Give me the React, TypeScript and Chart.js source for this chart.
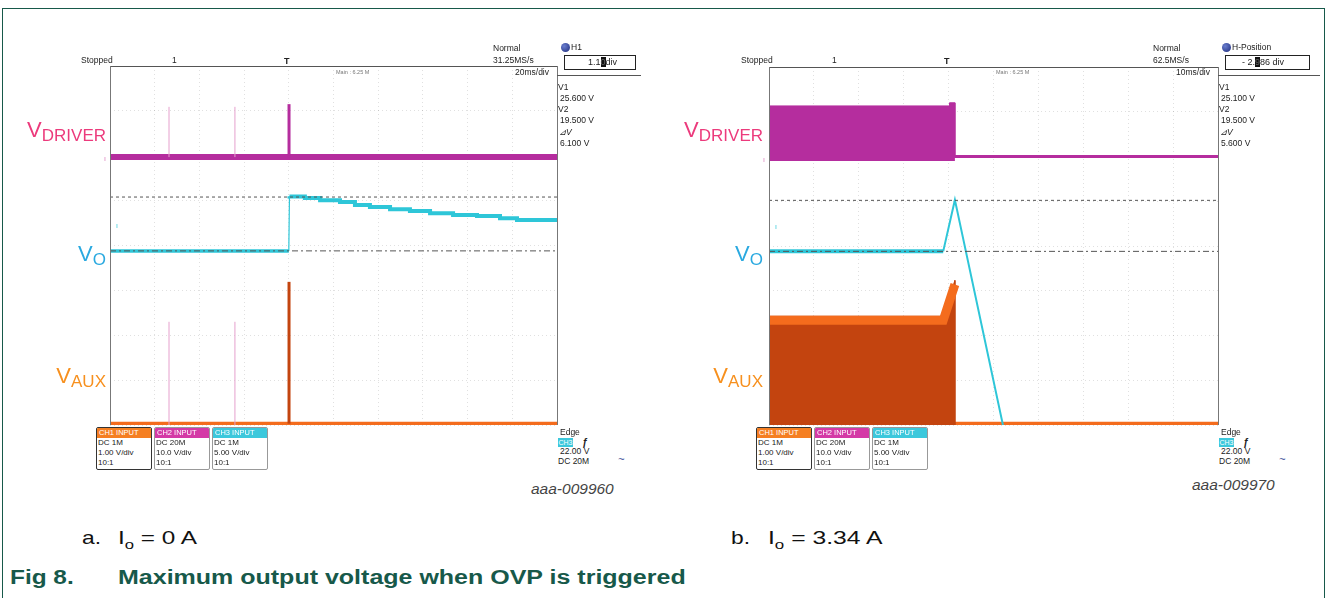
import React, { useEffect, useRef } from "react";
import { Chart, registerables } from "chart.js";
Chart.register(...registerables);

// ---------------- data: time in ms, level in screen divisions (8 div full height) ----------------
// Panel a: Io = 0 A, 20 ms/div
const A_TIME_SPAN = 200;
const aDriverTime = [0, 200];
const aDriverLevel = [5.97, 5.97];
const aDriverSpikeTime = [80.1, 80.1];
const aDriverSpikeLevel = [5.97, 7.15];
const aGlitchTime = [26.4, 55.9];
const aGlitchUpperTop = [7.09, 7.09];
const aGlitchLowerTop = [2.3, 2.3];
const aVoTime = [0, 80.0];
const aVoLevel = [3.88, 3.88];
const aVoRiseTime = [80.0, 80.3];
const aVoRiseLevel = [3.88, 5.1];
const aVoDecayTime = [80.3, 87.2, 94.0, 102.9, 109.6, 116.3, 125.3, 134.2, 143.2, 153.5, 164.2, 174.5, 182.1, 191.0, 200];
const aVoDecayLevel = [5.1, 5.09, 5.06, 5.01, 4.97, 4.9, 4.86, 4.81, 4.77, 4.72, 4.68, 4.66, 4.61, 4.57, 4.57];
const aAuxTime = [0, 200];
const aAuxLevel = [0.03, 0.03];
const aAuxSpikeTime = [80.1, 80.1];
const aAuxSpikeLevel = [0.03, 3.19];
const aCursorLevels = [5.08, 3.88];

// Panel b: Io = 3.34 A, 10 ms/div
const B_TIME_SPAN = 100;
const bDriverBlockTime = [0, 40.2, 40.2, 41.4, 41.4];
const bDriverBlockLevel = [7.13, 7.13, 7.2, 7.2, 5.97];
const bDriverBlockFloor = 5.9;
const bDriverTime = [41.4, 100];
const bDriverLevel = [6.0, 6.0];
const bVoTime = [0, 38.8];
const bVoLevel = [3.88, 3.88];
const bVoPulseTime = [38.8, 41.4, 52.1];
const bVoPulseLevel = [3.88, 5.03, 0.0];
const bAuxBlockTime = [0, 38.8, 41.4, 41.4];
const bAuxBlockLevel = [2.43, 2.43, 3.23, 0.0];
const bAuxTopTime = [0, 38.8, 41.4];
const bAuxTopLevel = [2.34, 2.34, 3.14];
const bAuxTime = [41.4, 100];
const bAuxLevel = [0.03, 0.03];
const bCursorLevels = [5.02, 3.88];

// ---------------- styles ----------------
const MAGENTA = "#b52d9e";
const PINK_THIN = "#e6a0cd";
const CYAN = "#2ec6d8";
const ORANGE = "#f46c1d";
const RUST = "#c3440f";
const CURSOR = "#555555";
const GRID = "rgba(0,0,0,0.12)";

type P = { x: number; y: number | null };
const pts = (xs: number[], ys: number[]): P[] => xs.map((x, i) => ({ x, y: ys[i] }));
const cursorPts = (level: number, span: number): P[] => [{ x: 0, y: level }, { x: span, y: level }];
const spikes = (xs: number[], bottom: number, tops: number[]): P[] =>
  xs.flatMap((x, i) => [{ x, y: bottom }, { x, y: tops[i] }, { x, y: null }]);

const line = (data: P[], color: string, width: number, extra: any = {}) => ({
  data,
  borderColor: color,
  backgroundColor: color,
  borderWidth: width,
  pointRadius: 0,
  fill: false,
  tension: 0,
  ...extra,
});

const datasetsA = () => [
  line(cursorPts(aCursorLevels[0], A_TIME_SPAN), CURSOR, 1, { borderDash: [3, 3] }),
  line(cursorPts(aCursorLevels[1], A_TIME_SPAN), CURSOR, 1, { borderDash: [6, 3, 2, 3] }),
  line(pts(aVoRiseTime, aVoRiseLevel), CYAN, 1.2),
  line(pts(aVoDecayTime, aVoDecayLevel), CYAN, 4, { stepped: "after" }),
  line(pts(aVoTime, aVoLevel), CYAN, 3.5),
  line(pts(aDriverSpikeTime, aDriverSpikeLevel), MAGENTA, 3),
  line(spikes(aGlitchTime, aDriverLevel[0], aGlitchUpperTop), PINK_THIN, 1),
  line(pts(aDriverTime, aDriverLevel), MAGENTA, 6),
  line(pts(aAuxSpikeTime, aAuxSpikeLevel), RUST, 3),
  line(spikes(aGlitchTime, 0, aGlitchLowerTop), PINK_THIN, 1),
  line(pts(aAuxTime, aAuxLevel), ORANGE, 4),
];

const datasetsB = () => [
  line(cursorPts(bCursorLevels[0], B_TIME_SPAN), CURSOR, 1, { borderDash: [3, 3] }),
  line(cursorPts(bCursorLevels[1], B_TIME_SPAN), CURSOR, 1, { borderDash: [6, 3, 2, 3] }),
  line(pts(bVoPulseTime, bVoPulseLevel), CYAN, 2),
  line(pts(bVoTime, bVoLevel), CYAN, 4),
  line(pts(bDriverBlockTime, bDriverBlockLevel), MAGENTA, 1, { fill: { value: bDriverBlockFloor }, backgroundColor: MAGENTA }),
  line(pts(bDriverTime, bDriverLevel), MAGENTA, 3),
  line(pts(bAuxTopTime, bAuxTopLevel), ORANGE, 9),
  line(pts(bAuxBlockTime, bAuxBlockLevel), RUST, 1, { fill: "origin", backgroundColor: RUST }),
  line(pts(bAuxTime, bAuxLevel), ORANGE, 4),
];

type Rect = { left: number; top: number; width: number; height: number };
const PAD = 10;

function ScopeChart({ rect, span, makeData }: { rect: Rect; span: number; makeData: () => any[] }) {
  const ref = useRef<HTMLCanvasElement>(null);
  useEffect(() => {
    const axisCommon = {
      type: "linear" as const,
      ticks: { display: false },
      grid: { color: GRID, drawTicks: false, lineWidth: 1 },
      border: { display: false, dash: [1, 3] },
    };
    const chart = new Chart(ref.current!, {
      type: "line",
      data: { datasets: makeData() },
      options: {
        animation: false,
        responsive: false,
        maintainAspectRatio: false,
        events: [],
        layout: { padding: PAD },
        plugins: { legend: { display: false }, tooltip: { enabled: false }, title: { display: false } },
        scales: {
          x: { ...axisCommon, min: 0, max: span, ticks: { display: false, stepSize: span / 10 } },
          y: { ...axisCommon, min: 0, max: 8, ticks: { display: false, stepSize: 1 } },
        },
      } as any,
    });
    return () => chart.destroy();
  }, []);
  const w = rect.width + PAD * 2;
  const h = rect.height + PAD * 2;
  return (
    <canvas
      ref={ref}
      width={w}
      height={h}
      style={{ position: "absolute", left: rect.left - PAD, top: rect.top - PAD, width: w, height: h }}
    />
  );
}

const ABS: React.CSSProperties = { position: "absolute", whiteSpace: "nowrap", lineHeight: 1 };
const SCOPE_FONT = "'Liberation Sans', Arial, sans-serif";
const TEXT_FONT = "'Liberation Sans', Arial, sans-serif";

function Txt({ x, y, size = 8.5, color = "#222", children, style }: any) {
  return (
    <div style={{ ...ABS, left: x, top: y - size * 0.55, fontSize: size, color, fontFamily: SCOPE_FONT, ...style }}>
      {children}
    </div>
  );
}

function Box({ x, y, w, h, style }: any) {
  return <div style={{ position: "absolute", left: x, top: y, width: w, height: h, boxSizing: "border-box", ...style }} />;
}

function SigLabel({ rx, y, main, sub, color }: any) {
  return (
    <div style={{ ...ABS, right: 1327 - rx, top: y - 12, fontSize: 22, color, fontFamily: TEXT_FONT }}>
      {main}
      <span style={{ fontSize: 17, position: "relative", top: 4 }}>{sub}</span>
    </div>
  );
}

function Caption({ x, y, size, bold, color, stretch, children }: any) {
  return (
    <div
      style={{
        ...ABS,
        left: x,
        top: y,
        fontSize: size,
        fontWeight: bold ? "bold" : "normal",
        color,
        fontFamily: TEXT_FONT,
        transform: `scaleX(${stretch})`,
        transformOrigin: "left center",
      }}
    >
      {children}
    </div>
  );
}

const CH_BOXES = [
  { name: "CH1 INPUT", color: "#f57f22", lines: ["DC 1M", "1.00 V/div", "10:1"], selected: true },
  { name: "CH2 INPUT", color: "#d43aa6", lines: ["DC 20M", "10.0 V/div", "10:1"], selected: false },
  { name: "CH3 INPUT", color: "#3cc8dc", lines: ["DC 1M", "5.00 V/div", "10:1"], selected: false },
];

function ScopeDecor({ dx, plot, rate, tdiv, hLabel, hValue, v1, v2, dv, code, codeY }: any) {
  const right = plot.left + plot.width;
  return (
    <>
      {/* frame */}
      <Box x={plot.left} y={plot.top} w={right - plot.left + 1} h={1} style={{ background: "#555" }} />
      <Box x={plot.left} y={plot.top} w={1} h={plot.height} style={{ background: "#777" }} />
      <Box x={right} y={plot.top} w={1} h={plot.height} style={{ background: "#777" }} />
      <Box x={right} y={75} w={84 + (dx ? 18 : 0)} h={1} style={{ background: "#555" }} />

      {/* header */}
      <Txt x={81 + dx} y={61}>Stopped</Txt>
      <Txt x={172 + dx} y={61}>1</Txt>
      <Txt x={284 + dx} y={62} size={9} style={{ fontWeight: "bold" }}>T</Txt>
      <Txt x={493 + dx} y={49}>Normal</Txt>
      <Txt x={493 + dx} y={61}>{rate}</Txt>
      <Txt x={336 + dx} y={73} size={5.5} color="#777">Main : 6.25 M</Txt>
      <Txt x={right - 42} y={73}>{tdiv}</Txt>

      {/* right panel */}
      <div style={{ position: "absolute", left: right + 4, top: 43, width: 9, height: 9, borderRadius: 5, background: "radial-gradient(circle at 35% 35%, #6a7fd0, #1d2a7a)" }} />
      <Txt x={right + 14} y={48}>{hLabel}</Txt>
      <Box x={right + 7} y={55} w={dx ? 85 : 72} h={15} style={{ border: "1.5px solid #222" }} />
      <Txt x={right + (dx ? 24 : 31)} y={63} size={9}>{hValue}</Txt>
      <Txt x={right + 1} y={88}>V1</Txt>
      <Txt x={right + 3} y={99}>{v1}</Txt>
      <Txt x={right + 1} y={110}>V2</Txt>
      <Txt x={right + 3} y={121}>{v2}</Txt>
      <Txt x={right + 2} y={133} style={{ fontStyle: "italic" }}>⊿V</Txt>
      <Txt x={right + 3} y={144}>{dv}</Txt>

      {/* channel boxes */}
      {CH_BOXES.map((c, i) => {
        const x = 96 + dx + i * 58;
        return (
          <div
            key={c.name}
            style={{
              position: "absolute",
              left: x,
              top: 427,
              width: 56,
              height: 43,
              boxSizing: "border-box",
              border: c.selected ? "1.5px solid #333" : "1px solid #999",
              borderRadius: 2,
              background: "#fff",
              overflow: "hidden",
            }}
          >
            <div style={{ background: c.color, color: "#fff", fontSize: 7.5, height: 10, lineHeight: "10px", paddingLeft: 2, fontFamily: SCOPE_FONT, whiteSpace: "nowrap" }}>
              {c.name}
            </div>
            {c.lines.map((l) => (
              <div key={l} style={{ fontSize: 8, lineHeight: "10px", paddingLeft: 1, color: "#222", fontFamily: SCOPE_FONT, whiteSpace: "nowrap" }}>
                {l}
              </div>
            ))}
          </div>
        );
      })}

      {/* trigger info */}
      <Txt x={right + 3} y={433}>Edge</Txt>
      <div style={{ ...ABS, left: right + 1, top: 438, width: 15, height: 9, background: "#3cc8dc", color: "#fff", fontSize: 7, lineHeight: "9px", textAlign: "center", fontFamily: SCOPE_FONT }}>CH3</div>
      <Txt x={right + 25} y={443} size={10} style={{ fontStyle: "italic", fontWeight: "bold" }}>ƒ</Txt>
      <Txt x={right + 3} y={452}>22.00 V</Txt>
      <Txt x={right + 1} y={462}>DC 20M</Txt>
      <Txt x={right + 61} y={460} size={11} color="#2a3f8f" style={{ fontStyle: "italic" }}>~</Txt>

      <div style={{ ...ABS, left: right - 26, top: codeY - 8, fontSize: 15.5, fontStyle: "italic", color: "#444", fontFamily: TEXT_FONT }}>
        {code}
      </div>

      {/* channel markers */}
      <Txt x={plot.left - 6} y={plot.top + 93} size={7} color="#d878b8">ı</Txt>
      <Txt x={plot.left + 6} y={plot.top + 160} size={7} color={CYAN}>ı</Txt>
    </>
  );
}

const PLOT_A: Rect = { left: 110, top: 66, width: 447, height: 359 };
const PLOT_B: Rect = { left: 769, top: 67, width: 449, height: 358 };

export default function App() {
  const sub = { fontSize: 13, position: "relative" as const, top: 5 };
  return (
    <div style={{ position: "absolute", left: 0, top: 0, width: 1327, height: 598, background: "#fff", overflow: "hidden" }}>
      {/* figure frame */}
      <div style={{ position: "absolute", left: 2, top: 8, width: 1323, height: 620, boxSizing: "border-box", border: "1.5px solid #17594a" }} />

      <ScopeChart rect={PLOT_A} span={A_TIME_SPAN} makeData={datasetsA} />
      <ScopeChart rect={PLOT_B} span={B_TIME_SPAN} makeData={datasetsB} />

      <ScopeDecor dx={0} plot={PLOT_A} rate="31.25MS/s" tdiv="20ms/div" hLabel="H1" hValue={<>1.1<span style={{ background: "#111", color: "#666" }}>0</span>div</>} v1="25.600 V" v2="19.500 V" dv="6.100 V" code="aaa-009960" codeY={489} />
      <ScopeDecor dx={660} plot={PLOT_B} rate="62.5MS/s" tdiv="10ms/div" hLabel="H-Position" hValue={<>- 2.<span style={{ background: "#111", color: "#666" }}>9</span>86 div</>} v1="25.100 V" v2="19.500 V" dv="5.600 V" code="aaa-009970" codeY={485} />

      <SigLabel rx={106} y={131} main="V" sub="DRIVER" color="#ec3a7c" />
      <SigLabel rx={106} y={255} main="V" sub="O" color="#2aa9e0" />
      <SigLabel rx={106} y={377} main="V" sub="AUX" color="#f7901e" />
      <SigLabel rx={763} y={131} main="V" sub="DRIVER" color="#ec3a7c" />
      <SigLabel rx={763} y={255} main="V" sub="O" color="#2aa9e0" />
      <SigLabel rx={763} y={377} main="V" sub="AUX" color="#f7901e" />

      {/* captions */}
      <Caption x={82} y={528} size={19} color="#111" stretch={1.2}>a.</Caption>
      <Caption x={118} y={528} size={19} color="#111" stretch={1.28}>
        I<span style={sub}>o</span> = 0 A
      </Caption>
      <Caption x={731} y={528} size={19} color="#111" stretch={1.2}>b.</Caption>
      <Caption x={768} y={528} size={19} color="#111" stretch={1.3}>
        I<span style={sub}>o</span> = 3.34 A
      </Caption>
      <Caption x={10} y={567} size={20} bold color="#17594a" stretch={1.22}>Fig 8.</Caption>
      <Caption x={118} y={567} size={20} bold color="#17594a" stretch={1.25}>
        Maximum output voltage when OVP is triggered
      </Caption>
    </div>
  );
}
